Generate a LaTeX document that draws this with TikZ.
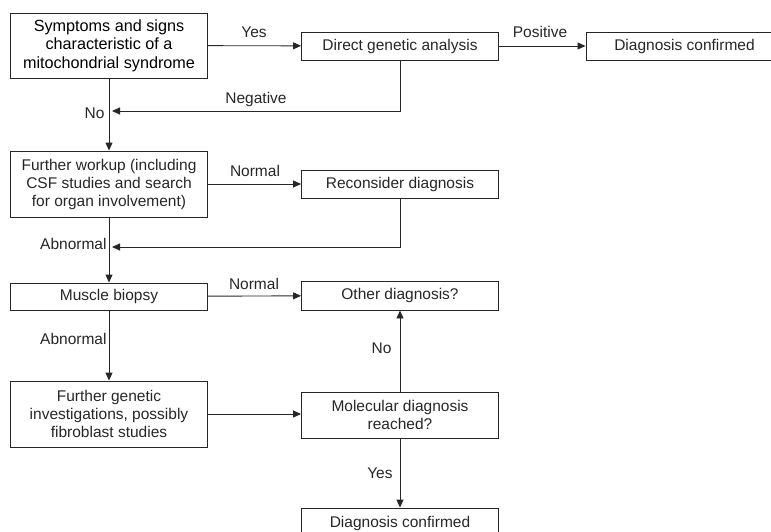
\documentclass[tikz,border=0pt]{standalone}
\usepackage{fontspec}
\setmainfont{Liberation Sans}
\usetikzlibrary{arrows.meta}

\tikzset{
  box/.style={draw, minimum width=197pt, align=center, inner sep=0pt,
    font=\fontsize{15.5}{18}\selectfont},
  lab/.style={inner sep=0pt, font=\fontsize{15.5}{18}\selectfont},
  arr/.style={-{Triangle[length=8pt,width=7pt]}}
}

\begin{document}
\begin{tikzpicture}[x=1pt,y=-1pt,line width=0.9pt,draw=black!85,text=black!85]
\useasboundingbox (0,0) rectangle (771,531);
\clip (0,0) rectangle (771,531);

\coordinate (neg) at (112,111);
\coordinate (back) at (112,247);

\node[box,minimum height=65pt,text=black,font=\fontsize{16.2}{18.5}\selectfont] (sympt) at (109,45.5) {Symptoms and signs\\characteristic of a\\mitochondrial syndrome};
\node[box,minimum height=28pt] (direct) at (400,46) {Direct genetic analysis};
\node[box,minimum height=28pt] (conf1) at (684.5,46) {Diagnosis confirmed};
\node[box,minimum height=66pt] (workup) at (109,184) {Further workup (including\\CSF studies and search\\for organ involvement)};
\node[box,minimum height=28pt] (recons) at (400,184) {Reconsider diagnosis};
\node[box,minimum height=27pt] (biopsy) at (109,296.5) {Muscle biopsy};
\node[box,minimum height=29pt] (other) at (400,295.5) {Other diagnosis?};
\node[box,minimum height=66pt] (genet) at (109,414) {Further genetic\\investigations, possibly\\fibroblast studies};
\node[box,minimum height=46pt] (molec) at (400,415) {Molecular diagnosis\\reached?};
\node[box,minimum height=30pt] (conf2) at (400,523) {Diagnosis confirmed};

\draw (254,37) node[lab,anchor=base] {Yes};
\draw (540,37) node[lab,anchor=base] {Positive};
\draw (256,103) node[lab,anchor=base] {Negative};
\draw (105,118) node[lab,anchor=base east] {No};
\draw (255,176) node[lab,anchor=base] {Normal};
\draw (107,249) node[lab,anchor=base east] {Abnormal};
\draw (254,289) node[lab,anchor=base] {Normal};
\draw (107,344) node[lab,anchor=base east] {Abnormal};
\draw (392,353) node[lab,anchor=base east] {No};
\draw (393,478) node[lab,anchor=base east] {Yes};

\draw[arr] (sympt) -- (direct);
\draw[arr] (direct) -- (conf1);
\draw[arr] (direct.south) |- (neg);
\draw[arr] (sympt) -- (workup);
\draw[arr] (workup) -- (recons);
\draw[arr] (recons.south) |- (back);
\draw[arr] (workup) -- (biopsy);
\draw[arr] (biopsy) -- (other);
\draw[arr] (biopsy) -- (genet);
\draw[arr] (genet.east) -- (genet.east -| molec.west);
\draw[arr] (molec) -- (other);
\draw[arr] (molec) -- (conf2);
\end{tikzpicture}
\end{document}
